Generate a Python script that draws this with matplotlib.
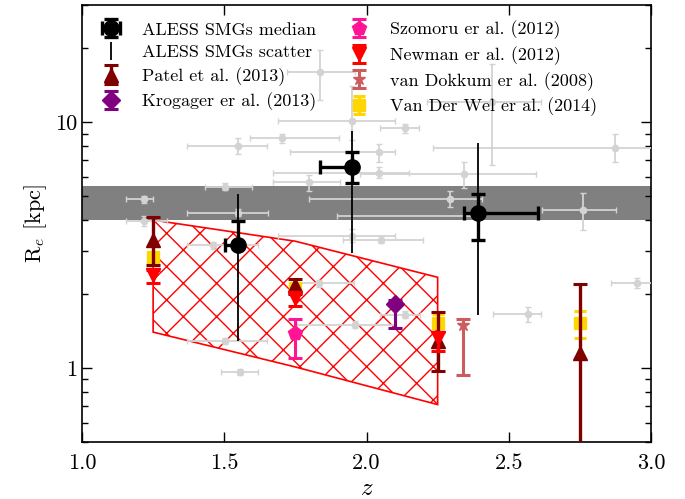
import matplotlib
matplotlib.use('Agg')
import matplotlib.pyplot as plt
import numpy as np
from matplotlib.ticker import FixedLocator, FuncFormatter, NullFormatter, LogLocator

plt.rcParams.update({
    'font.family': 'serif',
    'font.serif': ['cmr10'],
    'mathtext.fontset': 'cm',
    'axes.unicode_minus': False,
    'axes.formatter.use_mathtext': True,
    'hatch.linewidth': 1.0,
})

# ---- ALESS individual SMGs (grey) ----
grey_z    = [1.835, 2.441, 1.950, 2.135, 1.703, 1.547, 2.044, 2.872, 2.044, 2.341,
             1.798, 1.503, 2.295, 1.219, 2.761, 1.548, 1.219, 2.391, 1.950, 2.050,
             1.460, 1.834, 2.951, 2.567, 2.136, 1.959, 1.503, 1.554]
grey_zlo  = [1.721, 2.212, 1.689, 2.048, 1.589, 1.370, 1.730, 2.233, 1.670, 1.977,
             1.670, 1.434, 1.798, 1.154, 2.618, 1.368, 1.154, 1.897, 1.689, 1.916,
             1.368, 1.750, 2.859, 2.445, 2.048, 1.754, 1.368, 1.489]
grey_zhi  = [1.959, 2.612, 2.100, 2.185, 1.904, 1.651, 2.100, 3.100, 2.151, 2.594,
             1.907, 1.599, 2.406, 1.250, 2.877, 1.654, 1.300, 2.391, 2.100, 2.197,
             1.618, 1.956, 3.050, 2.612, 2.187, 2.100, 1.652, 1.618]
grey_re   = [16.0, 12.1, 10.1, 9.46, 8.59, 8.02, 7.56, 7.87, 6.24, 6.14,
             5.70, 5.47, 4.88, 4.86, 4.40, 4.29, 3.95, 4.14, 3.46, 3.33,
             3.16, 2.21, 2.22, 1.66, 1.65, 1.50, 1.29, 0.966]
grey_relo = [12.3, 6.7, 8.5, 9.05, 8.24, 7.42, 6.92, 6.87, 5.95, 5.39,
             5.27, 5.30, 4.54, 4.70, 3.63, 4.15, 3.77, 4.14, 3.25, 3.22,
             3.06, 2.14, 2.12, 1.54, 1.60, 1.45, 1.25, 0.94]
grey_rehi = [19.7, 17.3, 14.1, 9.88, 8.92, 8.64, 8.13, 8.92, 6.55, 6.87,
             6.10, 5.65, 5.26, 5.02, 5.17, 4.43, 4.14, 4.14, 3.68, 3.44,
             3.26, 2.28, 2.33, 1.77, 1.70, 1.55, 1.33, 0.99]

# ---- ALESS median ----
med_z = [1.55, 1.95, 2.391]
med_zlo = [1.504, 1.836, 2.341]
med_zhi = [1.55, 1.95, 2.603]
med_re = [3.16, 6.56, 4.27]
med_relo = [3.16, 5.68, 3.31]
med_rehi = [3.98, 7.54, 5.11]
scat_lo = [1.29, 2.94, 1.65]
scat_hi = [5.11, 9.22, 8.20]

# ---- literature ----
patel_z = [1.25, 1.75, 2.25, 2.75]
patel_re = [3.33, 2.17, 1.29, 1.15]
patel_lo = [2.62, 2.00, 0.97, 0.30]
patel_hi = [4.12, 2.31, 1.69, 2.19]

vdw_z = [1.25, 1.75, 2.25, 2.75]
vdw_re = [2.83, 2.12, 1.52, 1.52]
vdw_lo = [2.70, 2.02, 1.40, 1.32]
vdw_hi = [2.97, 2.22, 1.66, 1.70]

newman_z = [1.25, 1.75, 2.25]
newman_re = [2.38, 1.92, 1.33]
newman_lo = [2.22, 1.79, 1.17]
newman_hi = [2.50, 2.02, 1.40]

szomoru_z = [1.75]
szomoru_re = [1.39]
szomoru_lo = [1.10]
szomoru_hi = [1.58]

krog_z = [2.10]
krog_re = [1.83]
krog_lo = [1.45]
krog_hi = [1.90]

vdok_z = [2.34]
vdok_re = [1.50]
vdok_lo = [0.937]
vdok_hi = [1.58]

# hatched region
poly_z = [1.25, 1.25, 1.75, 2.25, 2.25, 1.75]
poly_re = [1.40, 4.00, 3.28, 2.34, 0.71, 1.01]

band_lo, band_hi = 4.0, 5.5

xticks = [1.0, 1.5, 2.0, 2.5, 3.0]
yticks = [1, 10]


def aerr(v, lo, hi):
    v = np.asarray(v); lo = np.asarray(lo); hi = np.asarray(hi)
    return np.vstack([v - lo, hi - v])


fig = plt.figure(figsize=(6.85, 4.99), dpi=100)
ax = fig.add_axes([0.1197, 0.1142, 0.8307, 0.8758])
ax.set_yscale('log')

ax.axhspan(band_lo, band_hi, color='#808080', lw=0, zorder=1)
ax.fill(poly_z, poly_re, facecolor='none', edgecolor='red', hatch='x', lw=1.2, zorder=2)

ax.errorbar(grey_z, grey_re, xerr=aerr(grey_z, grey_zlo, grey_zhi),
            yerr=aerr(grey_re, grey_relo, grey_rehi), fmt='o', color='#d3d3d3',
            ms=4.5, lw=1.3, capsize=2, capthick=1.0, zorder=3)

h_scat = ax.errorbar(med_z, med_re, yerr=aerr(med_re, scat_lo, scat_hi), fmt='none',
                     ecolor='black', elinewidth=1.3, capsize=0, zorder=5)
h_med = ax.errorbar(med_z, med_re, xerr=aerr(med_z, med_zlo, med_zhi),
                    yerr=aerr(med_re, med_relo, med_rehi), fmt='o', color='black',
                    ms=11, elinewidth=2.4, capsize=5, capthick=2.4, zorder=6)

h_vdw = ax.errorbar(vdw_z, vdw_re, yerr=aerr(vdw_re, vdw_lo, vdw_hi), fmt='s',
                    color='#FFD700', ms=9, elinewidth=2.2, capsize=4.5, capthick=2.2, zorder=7)
h_pat = ax.errorbar(patel_z, patel_re, yerr=aerr(patel_re, patel_lo, patel_hi), fmt='^',
                    color='#800000', ms=10, elinewidth=2.4, capsize=5, capthick=2.2, zorder=8)
h_new = ax.errorbar(newman_z, newman_re, yerr=aerr(newman_re, newman_lo, newman_hi), fmt='v',
                    color='red', ms=10, elinewidth=2.2, capsize=5, capthick=2.2, zorder=9)
h_szo = ax.errorbar(szomoru_z, szomoru_re, yerr=aerr(szomoru_re, szomoru_lo, szomoru_hi), fmt='p',
                    color='#FF1493', ms=10, elinewidth=2.2, capsize=5, capthick=2.2, zorder=9)
h_kro = ax.errorbar(krog_z, krog_re, yerr=aerr(krog_re, krog_lo, krog_hi), fmt='D',
                    color='#800080', ms=9, elinewidth=2.2, capsize=5, capthick=2.2, zorder=9)
h_vdk = ax.errorbar(vdok_z, vdok_re, yerr=aerr(vdok_re, vdok_lo, vdok_hi), fmt='*',
                    color='#CD5C5C', ms=9, elinewidth=2.2, capsize=5, capthick=2.2, zorder=9)

ax.set_xlim(1.0, 3.0)
ax.set_ylim(0.5, 30)
ax.xaxis.set_major_locator(FixedLocator(xticks))
ax.xaxis.set_major_formatter(FuncFormatter(lambda v, p: f'{v:.1f}'))
ax.yaxis.set_major_locator(FixedLocator(yticks))
ax.yaxis.set_major_formatter(FuncFormatter(lambda v, p: f'{v:g}'))
ax.yaxis.set_minor_locator(LogLocator(base=10, subs=np.arange(2, 10)))
ax.yaxis.set_minor_formatter(NullFormatter())
ax.tick_params(which='both', direction='in', top=True, right=True, labelsize=16, width=1.0)
ax.tick_params(which='major', length=7)
ax.tick_params(which='minor', length=4)
ax.tick_params(axis='x', which='major', pad=8)
for s in ax.spines.values():
    s.set_linewidth(1.2)

ax.set_xlabel('$z$', fontsize=18)
ax.set_ylabel('R$_e$ [kpc]', fontsize=16)

handles = [h_med, h_scat, h_pat, h_kro, h_szo, h_new, h_vdk, h_vdw]
labels = ['ALESS SMGs median', 'ALESS SMGs scatter', 'Patel et al. (2013)',
          'Krogager er al. (2013)', 'Szomoru er al. (2012)', 'Newman er al. (2012)',
          'van Dokkum er al. (2008)', 'Van Der Wel er al. (2014)']
ax.legend(handles, labels, loc='upper left', bbox_to_anchor=(0.0, 0.997), ncol=2,
          frameon=False, fontsize=13, numpoints=1, handlelength=1.6,
          handletextpad=0.95, columnspacing=1.53, labelspacing=0.38,
          borderaxespad=0.4)

fig.savefig('out.png', dpi=100)
